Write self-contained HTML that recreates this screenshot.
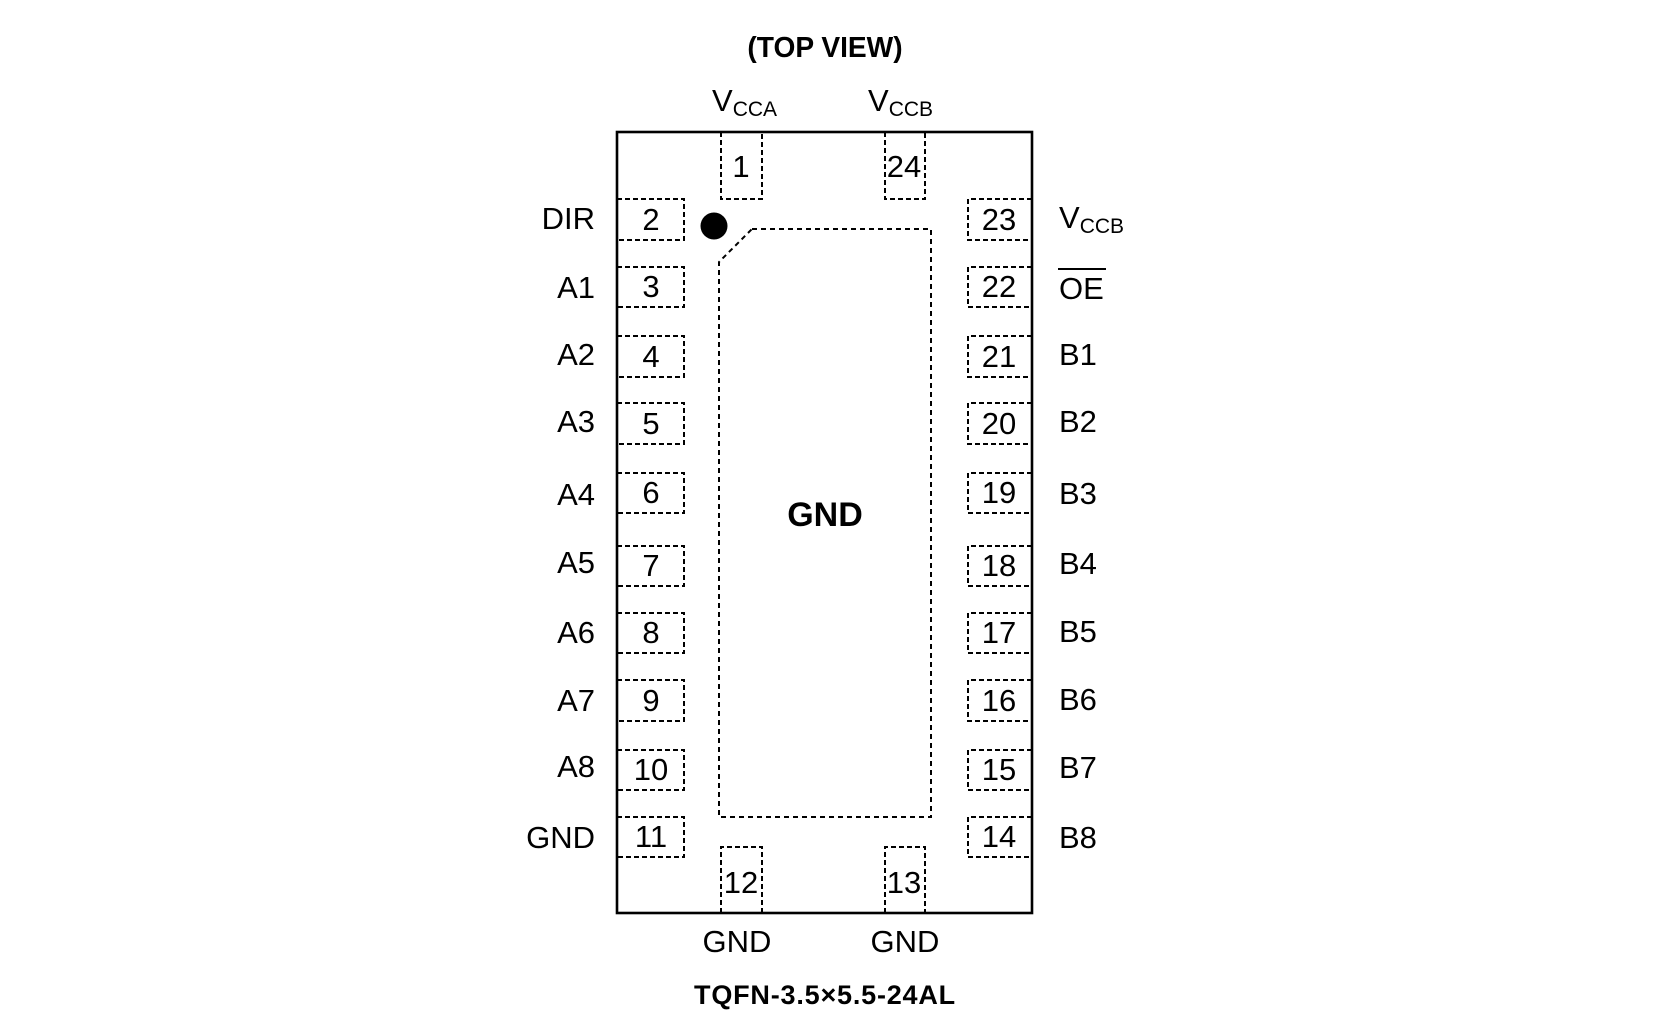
<!DOCTYPE html>
<html><head><meta charset="utf-8"><style>
html,body{margin:0;padding:0;background:#fff;}
svg{display:block;}
text{font-family:"Liberation Sans",Arial,sans-serif;fill:#000;}
</style></head><body>
<svg width="1654" height="1036" viewBox="0 0 1654 1036" xmlns="http://www.w3.org/2000/svg">
<rect width="1654" height="1036" fill="#fff"/>
<!-- title -->
<text x="825" y="57" font-size="29" font-weight="bold" text-anchor="middle" transform="translate(825 57) scale(0.97 1) translate(-825 -57)">(TOP VIEW)</text>
<!-- top labels -->
<text x="712" y="111" font-size="31">V<tspan font-size="21" dy="5">CCA</tspan></text>
<text x="868" y="111" font-size="31">V<tspan font-size="21" dy="5">CCB</tspan></text>
<!-- package box -->
<rect x="617" y="132" width="415" height="781" fill="none" stroke="#000" stroke-width="2.6"/>
<g fill="none" stroke="#000" stroke-width="2" stroke-dasharray="5 3">
<!-- left pins -->
<path d="M617,199 H684 V240 H617"/>
<path d="M617,267 H684 V307 H617"/>
<path d="M617,336 H684 V377 H617"/>
<path d="M617,403 H684 V444 H617"/>
<path d="M617,473 H684 V513 H617"/>
<path d="M617,546 H684 V586 H617"/>
<path d="M617,613 H684 V653 H617"/>
<path d="M617,680 H684 V721 H617"/>
<path d="M617,750 H684 V790 H617"/>
<path d="M617,817 H684 V857 H617"/>
<!-- right pins -->
<path d="M1032,199 H968 V240 H1032"/>
<path d="M1032,267 H968 V307 H1032"/>
<path d="M1032,336 H968 V377 H1032"/>
<path d="M1032,403 H968 V444 H1032"/>
<path d="M1032,473 H968 V513 H1032"/>
<path d="M1032,546 H968 V586 H1032"/>
<path d="M1032,613 H968 V653 H1032"/>
<path d="M1032,680 H968 V721 H1032"/>
<path d="M1032,750 H968 V790 H1032"/>
<path d="M1032,817 H968 V857 H1032"/>
<!-- top pins -->
<path d="M721,132 V199 H762 V132"/>
<path d="M885,132 V199 H925 V132"/>
<!-- bottom pins -->
<path d="M721,913 V847 H762 V913"/>
<path d="M885,913 V847 H925 V913"/>
</g>
<!-- exposed pad -->
<path d="M752,229 H931 V817 H719 V262 Z" fill="none" stroke="#000" stroke-width="2" stroke-dasharray="5 4"/>
<circle cx="714" cy="226" r="13.5" fill="#000"/>
<text x="825" y="526" font-size="34" font-weight="bold" text-anchor="middle">GND</text>
<!-- pin numbers -->
<g font-size="31" text-anchor="middle">
<text x="651" y="230">2</text>
<text x="651" y="297">3</text>
<text x="651" y="367">4</text>
<text x="651" y="434">5</text>
<text x="651" y="503">6</text>
<text x="651" y="576">7</text>
<text x="651" y="643">8</text>
<text x="651" y="711">9</text>
<text x="651" y="780">10</text>
<text x="651" y="847">11</text>
<text x="999" y="230">23</text>
<text x="999" y="297">22</text>
<text x="999" y="367">21</text>
<text x="999" y="434">20</text>
<text x="999" y="503">19</text>
<text x="999" y="576">18</text>
<text x="999" y="643">17</text>
<text x="999" y="711">16</text>
<text x="999" y="780">15</text>
<text x="999" y="847">14</text>
<text x="741" y="177">1</text>
<text x="904" y="177">24</text>
<text x="741" y="893">12</text>
<text x="904" y="893">13</text>
</g>
<!-- left labels -->
<g font-size="31" text-anchor="end">
<text x="595" y="229">DIR</text>
<text x="595" y="298">A1</text>
<text x="595" y="365">A2</text>
<text x="595" y="432">A3</text>
<text x="595" y="505">A4</text>
<text x="595" y="573">A5</text>
<text x="595" y="643">A6</text>
<text x="595" y="711">A7</text>
<text x="595" y="777">A8</text>
<text x="595" y="848">GND</text>
</g>
<!-- right labels -->
<g font-size="31">
<text x="1059" y="228">V<tspan font-size="21" dy="5">CCB</tspan></text>
<text x="1059" y="299">OE</text>
<text x="1059" y="365">B1</text>
<text x="1059" y="432">B2</text>
<text x="1059" y="504">B3</text>
<text x="1059" y="574">B4</text>
<text x="1059" y="642">B5</text>
<text x="1059" y="710">B6</text>
<text x="1059" y="778">B7</text>
<text x="1059" y="848">B8</text>
</g>
<line x1="1058" y1="269" x2="1106" y2="269" stroke="#000" stroke-width="2"/>
<!-- bottom labels -->
<text x="737" y="952" font-size="31" text-anchor="middle">GND</text>
<text x="905" y="952" font-size="31" text-anchor="middle">GND</text>
<text x="825" y="1004" font-size="27" font-weight="bold" text-anchor="middle" letter-spacing="0.8">TQFN-3.5×5.5-24AL</text>
</svg>
</body></html>
